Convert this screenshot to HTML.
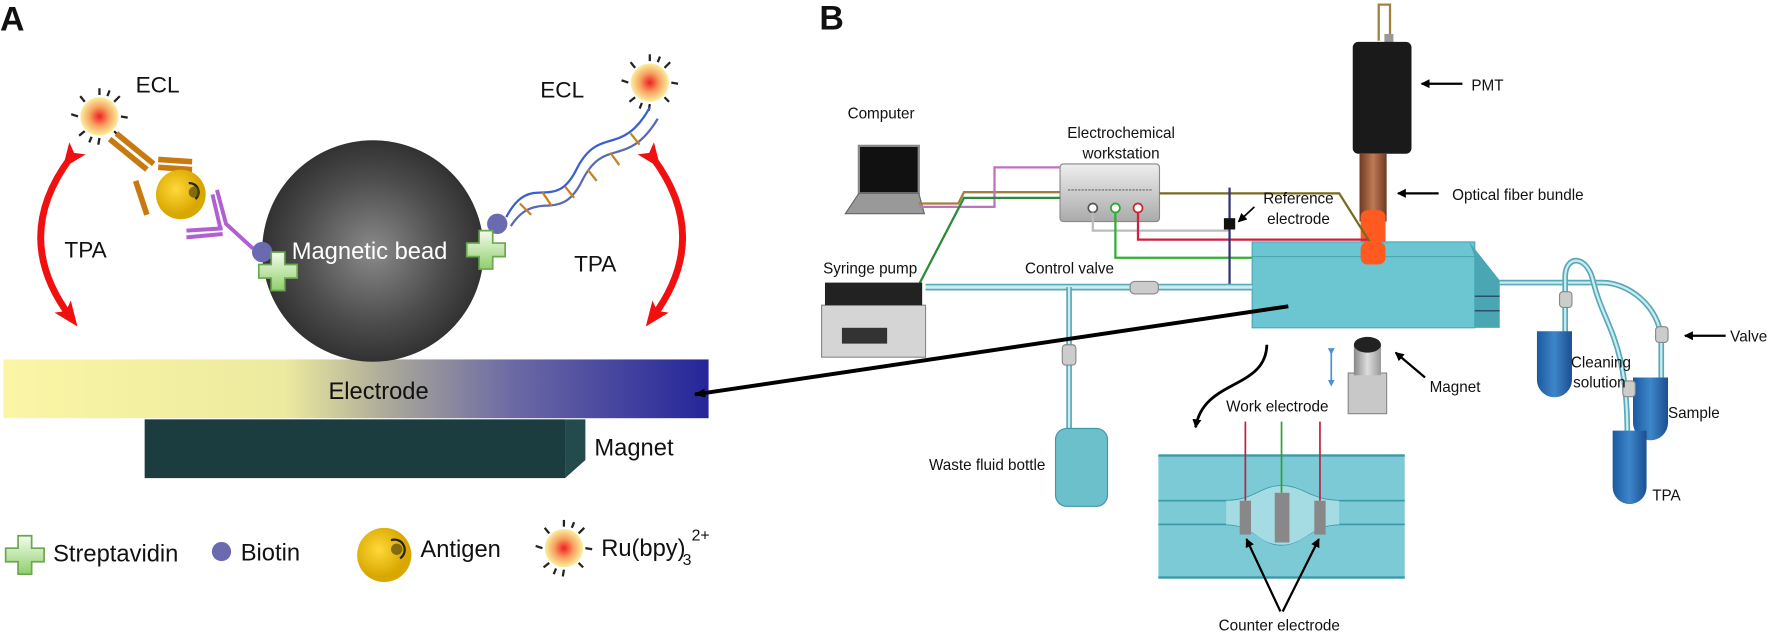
<!DOCTYPE html>
<html><head><meta charset="utf-8"><style>
html,body{margin:0;padding:0;background:#fff}
svg{display:block}
text{font-family:"Liberation Sans",sans-serif;fill:#111}
.b text{font-size:13.5px}
</style></head><body>
<svg width="1772" height="633" viewBox="0 0 1568 560" xmlns="http://www.w3.org/2000/svg">
<defs>
<linearGradient id="el" x1="0" x2="1" y1="0" y2="0">
<stop offset="0" stop-color="#fbf6a6"/><stop offset="0.4" stop-color="#ecea9e"/><stop offset="0.55" stop-color="#a9a799"/><stop offset="0.72" stop-color="#6c6aa4"/><stop offset="1" stop-color="#25259a"/></linearGradient>
<radialGradient id="bead" cx="0.5" cy="0.5" r="0.55"><stop offset="0" stop-color="#8a8a8a"/><stop offset="0.6" stop-color="#4c4c4c"/><stop offset="1" stop-color="#2a2a2a"/></radialGradient>
<radialGradient id="star"><stop offset="0" stop-color="#ef2020"/><stop offset="0.5" stop-color="#f7a060"/><stop offset="1" stop-color="#fbf0a0"/></radialGradient>
<radialGradient id="ag" cx="0.4" cy="0.4"><stop offset="0" stop-color="#ffd83a"/><stop offset="1" stop-color="#d9a800"/></radialGradient>
<linearGradient id="cr" x1="0" y1="0" x2="0" y2="1"><stop offset="0" stop-color="#f4fbee"/><stop offset="1" stop-color="#8fcf6a"/></linearGradient>
<linearGradient id="cu" x1="0" x2="1"><stop offset="0" stop-color="#6b3a22"/><stop offset="0.5" stop-color="#c07a55"/><stop offset="1" stop-color="#6b3a22"/></linearGradient>
<linearGradient id="tube" x1="0" x2="1"><stop offset="0" stop-color="#1b5aa0"/><stop offset="0.5" stop-color="#3d86c9"/><stop offset="1" stop-color="#1b4f90"/></linearGradient>
<linearGradient id="mg" x1="0" x2="1"><stop offset="0" stop-color="#888"/><stop offset="0.5" stop-color="#ddd"/><stop offset="1" stop-color="#999"/></linearGradient>
<linearGradient id="ws" x1="0" x2="0" y1="0" y2="1"><stop offset="0" stop-color="#eee"/><stop offset="1" stop-color="#aaa"/></linearGradient>
<g id="st"><circle r="17" fill="url(#star)"/>
<g stroke="#222" stroke-width="2"><line x1="0" y1="-19" x2="0" y2="-25"/><line x1="13" y1="-13" x2="18" y2="-18"/><line x1="19" y1="0" x2="25" y2="1"/><line x1="13" y1="13" x2="17" y2="17"/><line x1="0" y1="19" x2="-1" y2="25"/><line x1="-13" y1="13" x2="-18" y2="17"/><line x1="-19" y1="0" x2="-25" y2="-2"/><line x1="-13" y1="-13" x2="-17" y2="-18"/><line x1="7" y1="-18" x2="9" y2="-23"/><line x1="-7" y1="18" x2="-9" y2="23"/></g></g>
<path id="cross" d="M-6,-17h12v11h11v12h-11v11h-12v-11h-11v-12h11z" fill="url(#cr)" stroke="#6aa84f" stroke-width="1.5"/>
<marker id="ah" markerWidth="8" markerHeight="8" refX="7" refY="4" orient="auto" markerUnits="userSpaceOnUse"><path d="M0,0L8,4L0,8z" fill="#000"/></marker>
<marker id="ahs" markerWidth="10" markerHeight="10" refX="9" refY="5" orient="auto" markerUnits="userSpaceOnUse"><path d="M0,1L10,5L0,9z" fill="#000"/></marker>
<marker id="rh" markerWidth="22" markerHeight="22" refX="11" refY="11" orient="auto" markerUnits="userSpaceOnUse"><path d="M0,2L22,11L0,20L5,11z" fill="#f01010"/></marker>
<marker id="bh" markerWidth="6" markerHeight="6" refX="3" refY="3" orient="auto" markerUnits="userSpaceOnUse"><path d="M0,0L6,3L0,6z" fill="#4a90d9"/></marker>
</defs>

<!-- PANEL A -->
<text x="0" y="27" style="font-size:30px;font-weight:bold">A</text>
<rect x="3" y="318" width="624" height="52" fill="url(#el)"/>
<text x="335" y="353" text-anchor="middle" style="font-size:21px">Electrode</text>
<rect x="128" y="371" width="372" height="52" fill="#1b3d40"/>
<path d="M500,371h18v36l-18,16z" fill="#234a4c"/>
<text x="526" y="403" style="font-size:21px">Magnet</text>
<circle cx="330" cy="222" r="98" fill="url(#bead)"/>
<text x="327" y="229" text-anchor="middle" style="font-size:21px;fill:#fff">Magnetic bead</text>
<!-- red arrows -->
<path d="M62,140 Q10,210 62,280" fill="none" stroke="#f01010" stroke-width="6" marker-start="url(#rh)" marker-end="url(#rh)"/>
<path d="M578,140 Q630,210 578,280" fill="none" stroke="#f01010" stroke-width="6" marker-start="url(#rh)" marker-end="url(#rh)"/>
<text x="57" y="228" style="font-size:20px">TPA</text>
<text x="508" y="240" style="font-size:20px">TPA</text>
<text x="120" y="82" style="font-size:20px">ECL</text>
<text x="478" y="86" style="font-size:20px">ECL</text>
<use href="#st" x="88" y="103"/>
<use href="#st" x="575" y="73"/>
<!-- orange antibody -->
<g stroke="#c87a10" stroke-width="5"><line x1="97" y1="123" x2="130" y2="150"/><line x1="103" y1="118" x2="136" y2="145"/><line x1="140" y1="141" x2="170" y2="143"/><line x1="140" y1="148" x2="170" y2="150"/><line x1="120" y1="160" x2="130" y2="190"/></g>
<circle cx="160" cy="172" r="22" fill="url(#ag)"/>
<path d="M167,162a8,8 0 0 1 6,14" stroke="#222" fill="none" stroke-width="2"/>
<circle cx="172" cy="170" r="5" fill="#5a4a10" opacity="0.7"/>
<!-- purple antibody -->
<g stroke="#b060d0" stroke-width="3.5" fill="none"><path d="M192,168l8,30l24,22"/><path d="M188,172l7,30"/><path d="M165,204l32,-2"/><path d="M165,210l32,-3"/></g>
<circle cx="232" cy="223" r="9" fill="#6a6ab0"/>
<use href="#cross" x="246" y="240"/>
<circle cx="440" cy="198" r="9" fill="#6a6ab0"/>
<use href="#cross" x="430" y="221"/>
<!-- DNA -->
<g fill="none" stroke-width="2"><path d="M448,192 C470,150 490,190 510,150 S550,140 575,95" stroke="#3a5fd0"/><path d="M452,200 C475,165 495,200 515,160 S555,150 582,105" stroke="#5a6ab0"/>
<g stroke="#c88020"><line x1="460" y1="180" x2="470" y2="190"/><line x1="480" y1="170" x2="488" y2="182"/><line x1="500" y1="165" x2="508" y2="175"/><line x1="520" y1="150" x2="528" y2="160"/><line x1="540" y1="135" x2="548" y2="146"/><line x1="558" y1="118" x2="566" y2="128"/></g></g>
<!-- legend -->
<use href="#cross" x="22" y="491"/>
<text x="47" y="497" style="font-size:21px">Streptavidin</text>
<circle cx="196" cy="488" r="8.5" fill="#6a6ab0"/>
<text x="213" y="496" style="font-size:21px">Biotin</text>
<circle cx="340" cy="491" r="24" fill="url(#ag)"/>
<path d="M346,478a9,9 0 0 1 8,16" stroke="#222" fill="none" stroke-width="2"/>
<circle cx="351" cy="486" r="5" fill="#5a4a10" opacity="0.7"/>
<text x="372" y="493" style="font-size:21px">Antigen</text>
<use href="#st" x="499" y="485"/>
<text x="532" y="492" style="font-size:21px">Ru(bpy)</text>
<text x="604" y="500" style="font-size:14px">3</text>
<text x="612" y="478" style="font-size:14px">2+</text>

<!-- PANEL B -->
<g class="b">
<text x="725" y="26" style="font-size:30px;font-weight:bold">B</text>
<!-- PMT -->
<path d="M1220,36V4h10v32" fill="none" stroke="#a08040" stroke-width="2"/>
<rect x="1225" y="30" width="8" height="8" fill="#999"/>
<rect x="1197" y="37" width="52" height="99" rx="5" fill="#1a1a1a"/>
<rect x="1203" y="136" width="24" height="60" fill="url(#cu)"/>
<rect x="1204" y="186" width="22" height="46" rx="6" fill="#ff5a20"/>
<line x1="1294" y1="74" x2="1258" y2="74" stroke="#000" stroke-width="2" marker-end="url(#ah)"/>
<text x="1302" y="80">PMT</text>
<line x1="1273" y1="171" x2="1237" y2="171" stroke="#000" stroke-width="2" marker-end="url(#ah)"/>
<text x="1285" y="177">Optical fiber bundle</text>
<!-- computer -->
<text x="750" y="105">Computer</text>
<rect x="760" y="129" width="53" height="42" fill="#111" stroke="#888" stroke-width="2"/>
<path d="M760,171h53l5,18h-70z" fill="#999" stroke="#666"/>
<!-- workstation -->
<text x="992" y="122" text-anchor="middle">Electrochemical</text>
<text x="992" y="140" text-anchor="middle">workstation</text>
<rect x="938" y="145" width="88" height="51" rx="3" fill="url(#ws)" stroke="#888"/>
<line x1="945" y1="168" x2="1020" y2="168" stroke="#666" stroke-dasharray="2,1"/>
<circle cx="967" cy="184" r="4" fill="#fff" stroke="#555" stroke-width="1.5"/>
<circle cx="987" cy="184" r="4" fill="#fff" stroke="#2a2" stroke-width="1.5"/>
<circle cx="1007" cy="184" r="4" fill="#fff" stroke="#c22" stroke-width="1.5"/>
<!-- wires -->
<path d="M813,180h35l5,-10h85" fill="none" stroke="#a08040" stroke-width="2"/>
<path d="M813,183h67v-35h58" fill="none" stroke="#c070c0" stroke-width="2"/>
<path d="M1026,171h159l27,43" fill="none" stroke="#7a6a20" stroke-width="2"/>
<path d="M813,252l40,-77h85" fill="none" stroke="#2a8a3a" stroke-width="2"/>
<path d="M967,188v16h121" fill="none" stroke="#bbb" stroke-width="2"/>
<path d="M1007,188v24h203" fill="none" stroke="#d02040" stroke-width="2"/>
<path d="M987,188v40h121" fill="none" stroke="#30b030" stroke-width="2"/>
<!-- ref electrode -->
<line x1="1088" y1="166" x2="1088" y2="254" stroke="#337" stroke-width="2"/>
<rect x="1083" y="193" width="10" height="10" fill="#111"/>
<line x1="1110" y1="183" x2="1096" y2="196" stroke="#000" stroke-width="1.5" marker-end="url(#ah)"/>
<text x="1149" y="180" text-anchor="middle">Reference</text>
<text x="1149" y="198" text-anchor="middle">electrode</text>
<!-- flow cell -->
<polygon points="1108,214 1300,214 1327,248 1327,290 1305,290 1305,227 1108,227" fill="#5bbcc8"/>
<rect x="1108" y="214" width="197" height="76" fill="#6cc6d2" stroke="#4aa8b5"/>
<polygon points="1300,214 1327,248 1327,290 1305,290 1305,227" fill="#4aa6b2"/>
<line x1="1108" y1="227" x2="1305" y2="227" stroke="#4aa8b5"/>
<line x1="1305" y1="262" x2="1327" y2="262" stroke="#235"/>
<line x1="1305" y1="275" x2="1327" y2="275" stroke="#235"/>
<rect x="1204" y="214" width="22" height="20" rx="6" fill="#ff5a20"/>
<!-- syringe pump -->
<text x="770" y="242" text-anchor="middle">Syringe pump</text>
<rect x="727" y="270" width="92" height="46" fill="#d5d5d5" stroke="#888"/>
<rect x="745" y="290" width="40" height="14" fill="#333"/>
<rect x="730" y="250" width="86" height="20" fill="#222"/>
<!-- tubes -->
<line x1="819" y1="254" x2="1108" y2="254" stroke="#5aa8b8" stroke-width="6"/>
<line x1="819" y1="254" x2="1108" y2="254" stroke="#c8eef2" stroke-width="3"/>
<line x1="946" y1="254" x2="946" y2="386" stroke="#5aa8b8" stroke-width="5"/>
<line x1="946" y1="254" x2="946" y2="386" stroke="#c8eef2" stroke-width="2"/>
<text x="907" y="242">Control valve</text>
<rect x="1000" y="249" width="25" height="11" rx="4" fill="#ccc" stroke="#888"/>
<rect x="940" y="305" width="12" height="18" rx="3" fill="#ccc" stroke="#888"/>
<!-- waste bottle -->
<rect x="934" y="379" width="46" height="69" rx="10" fill="#6cc0cc" stroke="#3a98a8"/>
<text x="822" y="416">Waste fluid bottle</text>
<!-- big arrow -->
<line x1="1140" y1="271" x2="615" y2="349" stroke="#000" stroke-width="3.5" marker-end="url(#ahs)"/>
<!-- curved arrow -->
<path d="M1121,305 C1120,345 1065,335 1058,378" fill="none" stroke="#000" stroke-width="2.5" marker-end="url(#ah)"/>
<!-- magnet -->
<line x1="1178" y1="311" x2="1178" y2="339" stroke="#4a90d9" stroke-width="1.5" marker-start="url(#bh)" marker-end="url(#bh)"/>
<rect x="1193" y="330" width="34" height="36" fill="#c8c8c8" stroke="#888"/>
<rect x="1198" y="306" width="24" height="26" fill="url(#mg)"/>
<ellipse cx="1210" cy="305" rx="12" ry="7" fill="#222"/>
<line x1="1261" y1="334" x2="1235" y2="312" stroke="#000" stroke-width="2" marker-end="url(#ah)"/>
<text x="1265" y="347">Magnet</text>
<text x="1085" y="364">Work electrode</text>
<!-- inset -->
<rect x="1025" y="402" width="218" height="110" fill="#7ccad5"/>
<line x1="1025" y1="403" x2="1243" y2="403" stroke="#3a98a8" stroke-width="2"/>
<line x1="1025" y1="511" x2="1243" y2="511" stroke="#3a98a8" stroke-width="2"/>
<path d="M1025,443H1085C1110,443 1115,430 1134,430S1160,443 1185,443H1243" fill="none" stroke="#3a98a8" stroke-width="1.5"/>
<path d="M1025,464H1085C1110,464 1115,482 1134,482S1160,464 1185,464H1243" fill="none" stroke="#3a98a8" stroke-width="1.5"/>
<path d="M1085,443C1110,443 1115,430 1134,430S1160,443 1185,443V464C1160,464 1155,482 1134,482S1110,464 1085,464z" fill="#a5dce4"/>
<line x1="1102" y1="373" x2="1102" y2="443" stroke="#c02040" stroke-width="1.5"/>
<line x1="1134" y1="373" x2="1134" y2="436" stroke="#30a030" stroke-width="1.5"/>
<line x1="1168" y1="373" x2="1168" y2="443" stroke="#c02040" stroke-width="1.5"/>
<rect x="1097" y="443" width="10" height="30" fill="#888"/>
<rect x="1128" y="436" width="13" height="44" fill="#888"/>
<rect x="1163" y="443" width="10" height="30" fill="#888"/>
<line x1="1133" y1="541" x2="1103" y2="477" stroke="#000" stroke-width="2" marker-end="url(#ah)"/>
<line x1="1135" y1="541" x2="1167" y2="477" stroke="#000" stroke-width="2" marker-end="url(#ah)"/>
<text x="1132" y="558" text-anchor="middle">Counter electrode</text>
<!-- right tubing -->
<g fill="none">
<path d="M1327,250H1418C1440,250 1468,270 1470,300V335" stroke="#5aa8b8" stroke-width="5"/>
<path d="M1327,250H1418C1440,250 1468,270 1470,300V335" stroke="#c8eef2" stroke-width="2"/>
<path d="M1385,300V245C1385,225 1405,225 1410,250C1420,290 1440,300 1440,385" stroke="#5aa8b8" stroke-width="5"/>
<path d="M1385,300V245C1385,225 1405,225 1410,250C1420,290 1440,300 1440,385" stroke="#c8eef2" stroke-width="2"/>
</g>
<path d="M1360,293h31v43a15.5,15.5 0 0 1 -31,0z" fill="url(#tube)"/>
<path d="M1445,334h31v40a15.5,15.5 0 0 1 -31,0z" fill="url(#tube)"/>
<path d="M1427,381h30v50a15,15 0 0 1 -30,0z" fill="url(#tube)"/>
<rect x="1380" y="258" width="11" height="14" rx="3" fill="#ccc" stroke="#888"/>
<rect x="1465" y="289" width="11" height="14" rx="3" fill="#ccc" stroke="#888"/>
<rect x="1436" y="337" width="11" height="14" rx="3" fill="#ccc" stroke="#888"/>
<line x1="1527" y1="297" x2="1491" y2="297" stroke="#000" stroke-width="2" marker-end="url(#ah)"/>
<text x="1531" y="302">Valve</text>
<text x="1390" y="325">Cleaning</text>
<text x="1392" y="343">solution</text>
<text x="1476" y="370">Sample</text>
<text x="1462" y="443">TPA</text>
</g>
</svg>
</body></html>
